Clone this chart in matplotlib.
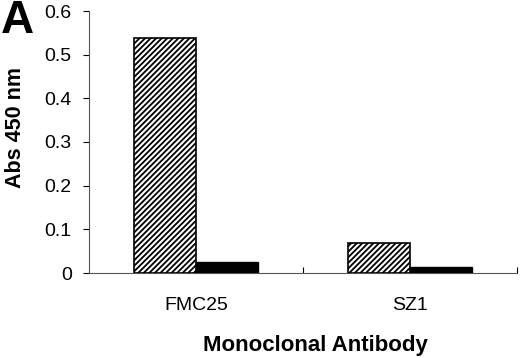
import matplotlib
matplotlib.use("Agg")
import matplotlib.pyplot as plt
import matplotlib.transforms as mtransforms
import numpy as np

plt.rcParams['font.family'] = ['Liberation Sans', 'DejaVu Sans']
plt.rcParams['hatch.linewidth'] = 1.3

categories = ["FMC25", "SZ1"]
hatched_values = [0.538, 0.069]
black_values = [0.026, 0.0145]
y_ticks = [0, 0.1, 0.2, 0.3, 0.4, 0.5, 0.6]
y_tick_labels = ["0", "0.1", "0.2", "0.3", "0.4", "0.5", "0.6"]

fig = plt.figure(figsize=(5.2, 3.58), dpi=100)
ax = fig.add_axes([89/520, 1-273/358, (517-89)/520, (273-11)/358])

x = np.arange(len(categories))
w = 0.29
ax.bar(x - w/2, hatched_values, width=w, color='white', edgecolor='black',
       hatch='//////', linewidth=1.2, zorder=3)
ax.bar(x + w/2, black_values, width=w, color='black', edgecolor='black',
       linewidth=1.0, zorder=3)

ax.set_xlim(-0.5, 1.5)
ax.set_ylim(0, 0.6)
ax.set_yticks(y_ticks)
ax.set_yticklabels(y_tick_labels, fontsize=14)
ax.tick_params(axis='y', direction='out', length=4.5, width=0.8, pad=8)

ax.set_xticks([0.5, 1.5])
ax.set_xticklabels(["", ""])
ax.tick_params(axis='x', direction='in', length=4, width=0.8)
trans = mtransforms.blended_transform_factory(ax.transData, fig.transFigure)
for xi, lab in zip(x, categories):
    ax.text(xi, 1-305/358, lab, transform=trans, ha='center',
            va='center', fontsize=14)

ax.spines['top'].set_visible(False)
ax.spines['right'].set_visible(False)
ax.spines['left'].set_color('#555555')
ax.spines['bottom'].set_color('#555555')
ax.spines['left'].set_linewidth(0.8)
ax.spines['bottom'].set_linewidth(0.8)

fig.text(315/520, 1-345/358, "Monoclonal Antibody", ha='center', va='center',
         fontsize=16, fontweight='bold')
fig.text(16/520, 1-127/358, "Abs 450 nm", ha='center', va='center',
         fontsize=15.5, fontweight='bold', rotation=90)
fig.text(0.5/520, 1-21/358, "A", ha='left', va='center', fontsize=33,
         fontweight='bold')

fig.savefig("out.png", dpi=100)
